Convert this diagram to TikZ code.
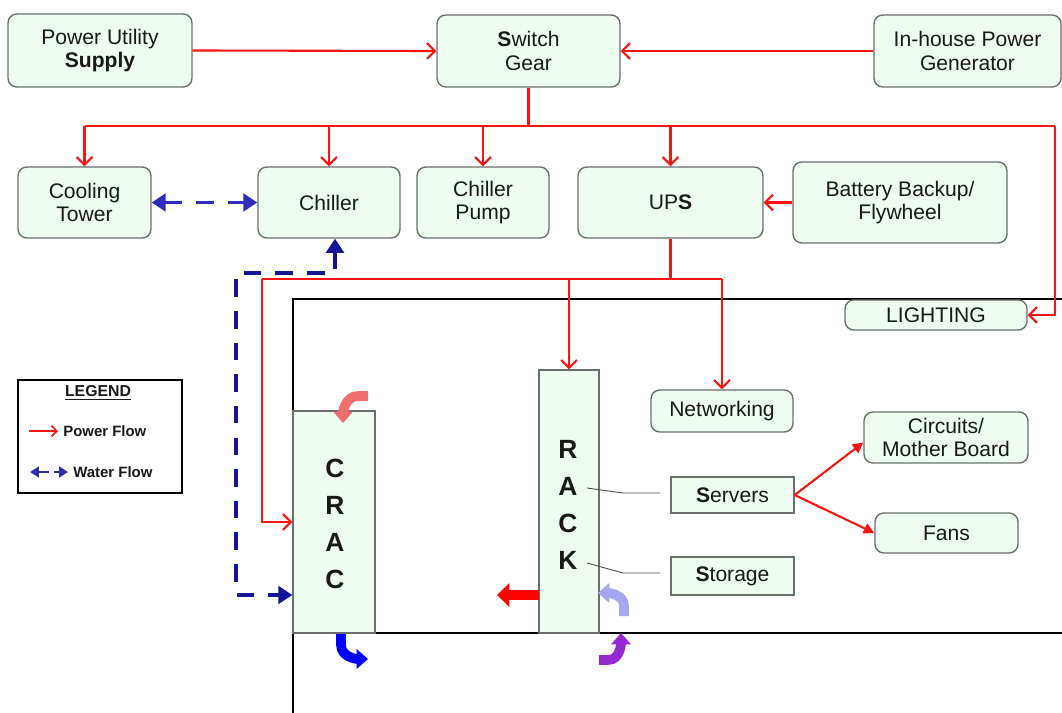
\documentclass[tikz,border=0pt]{standalone}
\usepackage{fontspec}
\setmainfont{Liberation Sans}
\usetikzlibrary{arrows.meta,calc}
\definecolor{pred}{RGB}{250,20,20}
\definecolor{boxfill}{RGB}{238,252,241}
\definecolor{boxborder}{RGB}{105,112,108}
\definecolor{wblue}{RGB}{45,45,185}
\definecolor{wnavy}{RGB}{20,20,150}
\definecolor{salmon}{RGB}{240,110,110}
\definecolor{lav}{RGB}{165,165,240}
\definecolor{purp}{RGB}{150,40,210}
\definecolor{txt}{RGB}{25,25,25}
\tikzset{
  box/.style={draw=boxborder, fill=boxfill, rounded corners=5pt, line width=0.8pt,
    inner sep=0pt, align=center, text=txt, font=\fontsize{12}{13.2}\selectfont},
  sqbox/.style={box, rounded corners=0pt},
  pwl/.style={draw=pred, line width=1.2pt},
  pw/.style={pwl, -{Straight Barb[length=4.5pt,width=9pt]}},
  pwt/.style={pwl, -{Triangle[length=6pt,width=6pt]}},
  wf/.style={line width=2.2pt, dash pattern=on 10pt off 8pt,
    {Triangle[length=8pt,width=10pt]}-{Triangle[length=8pt,width=10pt]}},
  room/.style={draw=black, line width=1.3pt},
  lead/.style={draw=black!70, line width=0.5pt},
  blk/.style={line width=5.5pt},
  blkhead/.style={-{Triangle[length=6.5pt,width=11pt]}},
  letters/.style={inner sep=0pt, align=center, text=txt, font=\bfseries\fontsize{15}{21}\selectfont}
}
\begin{document}
\begin{tikzpicture}[x=0.02cm,y=-0.02cm]
\clip (0,0) rectangle (1062,713);
\fill[white] (0,0) rectangle (1062,713);

% room outline
\draw[room] (1062,299) -- (293,299) -- (293,713);
\draw[room] (293,633) -- (1062,633);

% top row
\node[box, minimum width=3.68cm, minimum height=1.46cm] (PU) at (100,50.5) {Power Utility\\\textbf{Supply}};
\node[box, minimum width=3.66cm, minimum height=1.44cm] (SG) at (528.5,51) {\textbf{S}witch\\Gear};
\node[box, minimum width=3.74cm, minimum height=1.44cm] (GEN) at (967.5,51) {In-house Power\\Generator};

% second row
\node[box, minimum width=2.66cm, minimum height=1.42cm] (CT) at (84.5,202.5) {Cooling\\Tower};
\node[box, minimum width=2.84cm, minimum height=1.42cm] (CH) at (329,202.5) {Chiller};
\node[box, minimum width=2.64cm, minimum height=1.42cm] (CP) at (483,202.5) {Chiller\\Pump};
\node[box, minimum width=3.70cm, minimum height=1.42cm] (UPS) at (670.5,202.5) {UP\textbf{S}};
\node[box, minimum width=4.28cm, minimum height=1.62cm] (BAT) at (900,202.5) {Battery Backup/\\Flywheel};

% room contents
\node[box, minimum width=3.64cm, minimum height=0.60cm] (LIGHT) at (936,315) {LIGHTING};
\node[box, minimum width=2.84cm, minimum height=0.84cm] (NET) at (722,411) {Networking};
\node[box, minimum width=3.28cm, minimum height=1.02cm] (CIRC) at (946,437.5) {Circuits/\\Mother Board};
\node[sqbox, minimum width=2.46cm, minimum height=0.72cm] (SERV) at (732.5,495) {\textbf{S}ervers};
\node[box, minimum width=2.86cm, minimum height=0.80cm] (FANS) at (946.5,533) {Fans};
\node[sqbox, minimum width=2.46cm, minimum height=0.76cm] (STOR) at (732.5,576) {\textbf{S}torage};
\node[sqbox, minimum width=1.64cm, minimum height=4.44cm] (CRAC) at (334,522) {};
\node[letters] (CRACt) at (335,524) {C\\R\\A\\C};
\node[sqbox, minimum width=1.20cm, minimum height=5.26cm] (RACK) at (569,501.5) {};
\node[letters] (RACKt) at (568,505) {R\\A\\C\\K};

% power connectors
\draw[pw] (PU.east) -- (SG.west);
\draw[pw] (GEN.west) -- (SG.east);
\coordinate (busL) at (84.5,126);
\coordinate (busR) at (1055,126);
\draw[pwl, line width=1.7pt] (SG.south) -- (SG.south |- busL);
\draw[pwl] (busL) -- (busR);
\draw[pw] (busL) -- (CT.north);
\draw[pw] (CH.north |- busL) -- (CH.north);
\draw[pw] (CP.north |- busL) -- (CP.north);
\draw[pw] (UPS.north |- busL) -- (UPS.north);
\draw[pw] (busR) |- (LIGHT.east);
\draw[pw] (BAT.west) -- (UPS.east);
\coordinate (uL) at (262,279);
\coordinate (uR) at (722,279);
\draw[pwl] (UPS.south) -- (UPS.south |- uL);
\draw[pwl] (uL) -- (uR);
\draw[pw] (RACK.north |- uL) -- (RACK.north);
\draw[pw] (uR) -- (NET.north);
\draw[pw] (uL) |- (CRAC.west);
\draw[pwt] (SERV.east) -- ($(CIRC.west)+(0,5)$);
\draw[pwt] (SERV.east) -- (FANS.west);

% water connectors
\draw[wf, wblue] (CT.east) -- (CH.west);
\coordinate (wTop) at (236,273);
\coordinate (wBot) at (236,595);
\draw[wf, wnavy] ($(CH.south)+(6,0)$) |- (wTop) -- (wBot) -- (wBot -| CRAC.west);

% leader lines
\coordinate (l1) at (587,488);
\coordinate (l2) at (587,563);
\draw[lead] (l1) -- (623,493) -- ($(SERV.west)+(-10,-2)$);
\draw[lead] (l2) -- (623,573) -- ($(STOR.west)+(-10,-3)$);

% block arrows
\draw[blk, blkhead, salmon] (368,396) -- (358,396) to[out=180,in=90] (343,423);
\draw[blk, blkhead, blue] (341,634) -- (341,645) to[out=270,in=180] (368,659);
\draw[line width=6pt, red, -{Triangle[length=7pt,width=13pt]}] (539,595) -- (497,595);
\draw[blk, blkhead, lav] (624,616) -- (624,606) to[out=90,in=0] (598,593);
\draw[blk, blkhead, purp] (599,660) -- (608,660) to[out=0,in=270] (621,633);

% legend
\node[draw=black, line width=1.1pt, minimum width=3.28cm, minimum height=2.26cm, inner sep=0pt] (LEG) at (100,436.5) {};
\node[inner sep=0pt, text=txt, font=\bfseries\fontsize{9}{10}\selectfont] (LEGt) at (98,393) {\underline{LEGEND}};
\coordinate (pa) at (29,431);
\coordinate (pb) at (58,431);
\draw[pred, line width=1pt, -{Straight Barb[length=3pt,width=6pt]}] (pa) -- (pb);
\node[anchor=west, inner sep=0pt, text=txt, font=\bfseries\fontsize{8.5}{10}\selectfont] (PFt) at (63,431) {Power Flow};
\coordinate (wa) at (30,472);
\coordinate (wb) at (68,472);
\draw[wblue, line width=1.5pt, dash pattern=on 6pt off 3pt, {Triangle[length=5pt,width=6pt]}-{Triangle[length=5pt,width=6pt]}] (wa) -- (wb);
\node[anchor=west, inner sep=0pt, text=txt, font=\bfseries\fontsize{8.5}{10}\selectfont] (WFt) at (73,472) {Water Flow};
\end{tikzpicture}
\end{document}
